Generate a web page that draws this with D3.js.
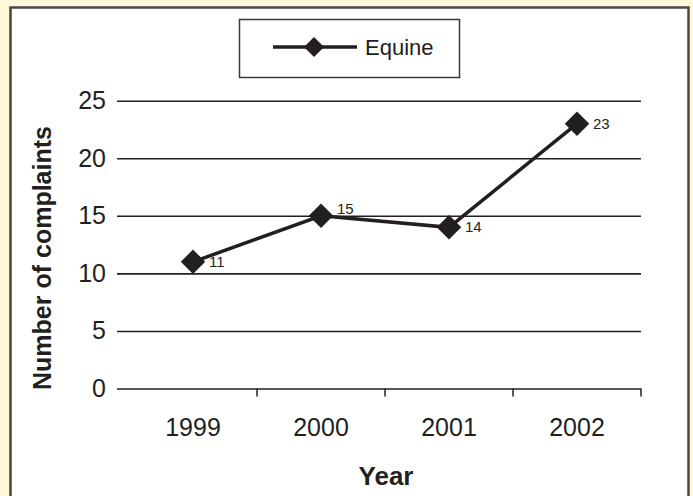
<!DOCTYPE html>
<html>
<head>
<meta charset="utf-8">
<script src="https://cdn.jsdelivr.net/npm/d3@7"></script>
<style>
  html, body { margin: 0; padding: 0; background: #fef8d8; }
  text { font-family: "Liberation Sans", Arial, Helvetica, sans-serif; fill: #231f20; }
</style>
</head>
<body>
<div id="chart"></div>
<script>
const years = ["1999", "2000", "2001", "2002"]
const complaints = [11, 15, 14, 23]
const yTicks = [0, 5, 10, 15, 20, 25]
const seriesName = "Equine"

const width = 693
const height = 496
const margin = {top: 101, right: 52, bottom: 107, left: 129}
const ink = "#231f20"

const svg = d3.select("#chart")
  .append("svg")
    .attr("width", width)
    .attr("height", height)

// white panel with dark frame
svg.append("rect")
  .attr("x", 10.5)
  .attr("y", 7.5)
  .attr("width", 678)
  .attr("height", 500)
  .attr("fill", "#ffffff")
  .attr("stroke", "#4a4644")
  .attr("stroke-width", 2.5)

const xScale = d3.scaleBand()
  .domain(years)
  .range([margin.left, width - margin.right])

const yScale = d3.scaleLinear()
  .domain([0, 25])
  .range([height - margin.bottom - 0.5, margin.top - 0.3])

// horizontal gridlines + y labels
const yAxis = svg.append("g")
  .attr("transform", `translate(${margin.left}, 0)`)
  .call(d3.axisLeft(yScale)
    .tickValues(yTicks)
    .tickSize(12)
    .tickPadding(11)
    .tickFormat(d3.format("d")))
  .call(g => g.select(".domain").remove())

yAxis.selectAll(".tick line")
  .attr("x1", -12)
  .attr("x2", width - margin.right - margin.left)
  .attr("stroke", ink)
  .attr("stroke-width", 1.6)

yAxis.selectAll(".tick text")
  .style("font-size", "25px")
  .attr("fill", ink)

// category axis at zero
const xAxis = svg.append("g")
  .attr("transform", `translate(0, ${yScale(0)})`)
  .call(d3.axisBottom(xScale).tickSize(0).tickPadding(30))
  .call(g => g.select(".domain").remove())

xAxis.selectAll(".tick text")
  .style("font-size", "25px")
  .attr("fill", ink)

xAxis.selectAll(".sep")
  .data(years.slice(1).map(d => xScale(d)).concat([xScale(years[years.length - 1]) + xScale.bandwidth()]))
  .join("line")
    .attr("class", "sep")
    .attr("x1", d => d)
    .attr("x2", d => d)
    .attr("y1", 0)
    .attr("y2", 8)
    .attr("stroke", ink)
    .attr("stroke-width", 1.5)

// series
const pts = years.map((y, i) => ({year: y, value: complaints[i]}))
const cx = d => xScale(d.year) + xScale.bandwidth() / 2

svg.append("path")
  .datum(pts)
  .attr("fill", "none")
  .attr("stroke", ink)
  .attr("stroke-width", 3.5)
  .attr("d", d3.line().x(cx).y(d => yScale(d.value)))

const diamond = d3.symbol().type(d3.symbolSquare).size(300)

svg.selectAll(".marker")
  .data(pts)
  .join("path")
    .attr("class", "marker")
    .attr("d", diamond)
    .attr("fill", ink)
    .attr("transform", d => `translate(${cx(d)}, ${yScale(d.value)}) rotate(45)`)

svg.selectAll(".vlabel")
  .data(pts)
  .join("text")
    .attr("class", "vlabel")
    .attr("x", d => cx(d) + 16)
    .attr("y", (d, i) => {
      const prev = complaints[i - 1], next = complaints[i + 1]
      const peak = prev !== undefined && next !== undefined && d.value > prev && d.value > next
      return yScale(d.value) + (peak ? -2 : 5)
    })
    .style("font-size", "15px")
    .text(d => d.value)

// axis titles
svg.append("text")
  .attr("transform", `translate(51, 258) rotate(-90)`)
  .attr("text-anchor", "middle")
  .style("font-size", "25px")
  .style("font-weight", "bold")
  .text("Number of complaints")

svg.append("text")
  .attr("x", 386)
  .attr("y", 485)
  .attr("text-anchor", "middle")
  .style("font-size", "26px")
  .style("font-weight", "bold")
  .text("Year")

// legend
const legend = svg.append("g")
legend.append("rect")
  .attr("x", 239.5)
  .attr("y", 19.5)
  .attr("width", 220)
  .attr("height", 58)
  .attr("fill", "#ffffff")
  .attr("stroke", "#3a3a3a")
  .attr("stroke-width", 1.5)
legend.append("line")
  .attr("x1", 273).attr("x2", 357)
  .attr("y1", 47).attr("y2", 47)
  .attr("stroke", ink)
  .attr("stroke-width", 3.5)
legend.append("path")
  .attr("d", d3.symbol().type(d3.symbolSquare).size(200))
  .attr("fill", ink)
  .attr("transform", "translate(314, 47) rotate(45)")
legend.append("text")
  .attr("x", 365)
  .attr("y", 55)
  .style("font-size", "22px")
  .text(seriesName)
</script>
</body>
</html>
